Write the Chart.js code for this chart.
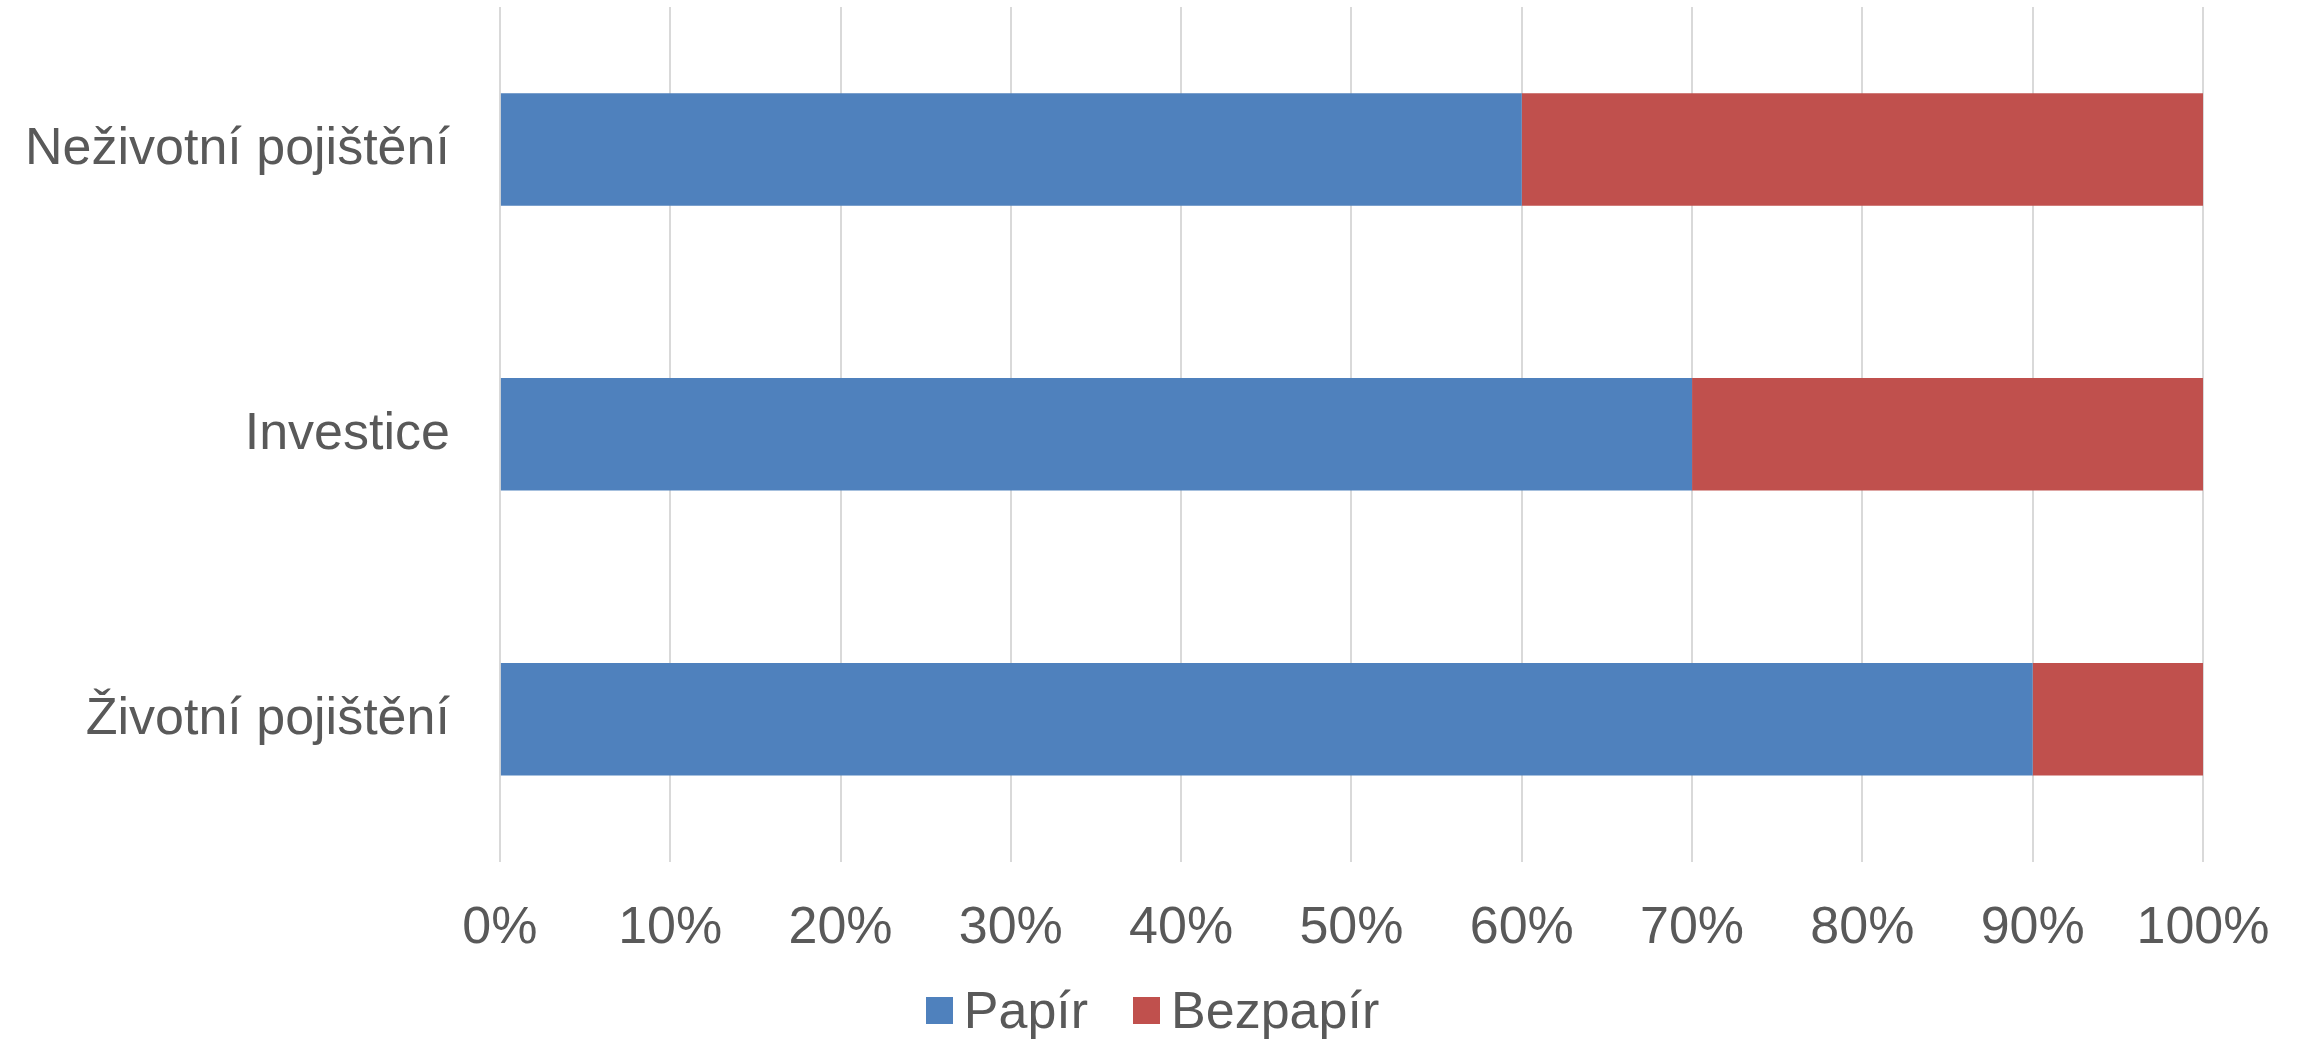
<!DOCTYPE html>
<html>
<head>
<meta charset="utf-8">
<script src="https://cdn.jsdelivr.net/npm/chart.js@4"></script>
<style>
  html, body { margin: 0; padding: 0; background: #fff; }
  #wrap { position: relative; width: 2299px; height: 1039px; }
  #legend {
    position: absolute; left: 6px; right: 0; top: 980px; height: 60px;
    display: flex; justify-content: center; align-items: center;
    font-family: "Liberation Sans", Arial, sans-serif; font-size: 52px; color: #595959;
  }
  #legend .item { display: flex; align-items: center; }
  #legend .item + .item { margin-left: 45px; }
  #legend .box { width: 27px; height: 27px; margin-right: 11px; }
</style>
</head>
<body>
<div id="wrap">
  <canvas id="chart" width="2299" height="1039"></canvas>
  <div id="legend"></div>
</div>
<script>
const categories = ["Neživotní pojištění", "Investice", "Životní pojištění"];
const papir = [60, 70, 90];
const bezpapir = [40, 30, 10];
const seriesNames = ["Papír", "Bezpapír"];
const seriesColors = ["#4F81BD", "#C0504D"];

const textColor = "#595959";
const fontFamily = "'Liberation Sans', Arial, sans-serif";

const chart = new Chart(document.getElementById("chart"), {
  type: "bar",
  data: {
    labels: categories,
    datasets: [
      { label: seriesNames[0], data: papir, backgroundColor: seriesColors[0] },
      { label: seriesNames[1], data: bezpapir, backgroundColor: seriesColors[1] },
    ],
  },
  options: {
    indexAxis: "y",
    responsive: false,
    animation: false,
    datasets: { bar: { barPercentage: 0.395, categoryPercentage: 1 } },
    layout: { padding: { left: 22, right: 96, top: 7, bottom: 76 } },
    plugins: { legend: { display: false }, tooltip: { enabled: false } },
    scales: {
      x: {
        stacked: true,
        min: 0,
        max: 100,
        ticks: {
          stepSize: 10,
          padding: 3,
          color: textColor,
          font: { family: fontFamily, size: 52 },
          callback: (v) => v + "%",
        },
        // mezera pod grafem přes neviditelné čárky os
        grid: { color: "#d9d9d9", lineWidth: 2, drawTicks: true, tickLength: 33, tickColor: "rgba(0,0,0,0)" },
        border: { display: false },
      },
      y: {
        stacked: true,
        ticks: {
          padding: 3,
          color: textColor,
          font: { family: fontFamily, size: 52, lineHeight: 0.1 },
        },
        grid: { display: false, drawTicks: true, tickLength: 47 },
        border: { display: false },
      },
    },
  },
});

// Legenda jako HTML (menší mezera mezi čtverečkem a textem)
const legendDiv = document.getElementById("legend");
chart.data.datasets.forEach((ds) => {
  const item = document.createElement("div");
  item.className = "item";
  const box = document.createElement("span");
  box.className = "box";
  box.style.background = ds.backgroundColor;
  const label = document.createElement("span");
  label.textContent = ds.label;
  item.appendChild(box);
  item.appendChild(label);
  legendDiv.appendChild(item);
});
</script>
</body>
</html>
